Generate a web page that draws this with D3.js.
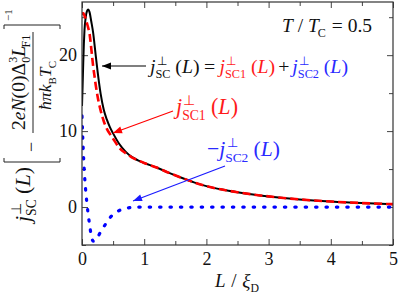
<!DOCTYPE html>
<html><head><meta charset="utf-8">
<script src="https://cdn.jsdelivr.net/npm/d3@7"></script>
<style>
body{margin:0;background:#fff}
</style>
</head><body>
<svg id="c" width="398" height="294"></svg>
<script>
// ---- data ----
const L        = [0, 0.01, 0.02, 0.03, 0.04, 0.06, 0.08, 0.1, 0.12, 0.15, 0.18, 0.2, 0.22, 0.25, 0.3, 0.35, 0.4, 0.45, 0.5, 0.6, 0.7, 0.8, 0.9, 1.0, 1.2, 1.4, 1.6, 1.8, 2.0, 2.25, 2.5, 2.75, 3.0, 3.5, 4.0, 4.5, 5.0];
const jSC      = [13.3, 16.0, 19.0, 21.5, 23.3, 25.0, 25.8, 26.0, 25.7, 24.4, 22.9, 21.5, 20.0, 17.9, 14.9, 12.8, 11.5, 10.5, 9.7, 8.3, 7.3, 6.6, 6.15, 5.8, 5.2, 4.5, 3.85, 3.25, 2.75, 2.3, 1.95, 1.65, 1.4, 1.0, 0.72, 0.52, 0.38];
const jSC1     = [25.3, 25.5, 25.5, 25.4, 25.2, 24.8, 24.2, 23.6, 22.9, 20.8, 18.5, 17.3, 16.1, 14.6, 12.7, 11.3, 10.3, 9.6, 9.0, 7.8, 7.1, 6.55, 6.15, 5.8, 5.2, 4.5, 3.85, 3.25, 2.75, 2.3, 1.95, 1.65, 1.4, 1.0, 0.72, 0.52, 0.38];
const minusJSC2= [12.0, 9.6, 7.5, 5.8, 4.3, 2.1, 0.4, -1.0, -2.2, -3.8, -4.5, -4.45, -4.3, -4.0, -3.25, -2.6, -2.0, -1.4, -1.0, -0.45, -0.18, -0.05, 0, 0, 0, 0, 0, 0, 0, 0, 0, 0, 0, 0, 0, 0, 0];
const xTicks = [0, 1, 2, 3, 4, 5];
const xMinor = [0.5, 1.5, 2.5, 3.5, 4.5];
const yTicks = [0, 10, 20];
const yMinor = [-5, 5, 15, 25];

const FONT = '"Liberation Serif", Tinos, "Times New Roman", Times, serif';
const svg = d3.select('#c');
const x = d3.scaleLinear().domain([0, 5]).range([82, 393]);
const y = d3.scaleLinear().domain([-5, 27]).range([245, 2]);

// ---- rich text helper ----
function rich(g, x0, y0, parts, size, opt) {
  opt = opt || {};
  const grp = g.append('g');
  let cx = 0;
  const mk = (t, xx, yy, s, it, col) => {
    const e = grp.append('text').attr('x', xx).attr('y', yy).attr('font-size', s)
      .attr('font-family', FONT).style('font-family', FONT)
      .attr('fill', col || opt.color || '#111').text(t);
    if (it) e.attr('font-style', 'italic');
    return e.node().getComputedTextLength();
  };
  parts.forEach(p => {
    if (p.gap !== undefined) { cx += p.gap * size; return; }
    if (p.sup !== undefined || p.sub !== undefined) {
      const s = size * 0.62; let w = 0;
      const ox = cx + (p.dx || 0) * size;
      if (p.sup) w = Math.max(w, mk(p.sup, ox, -size * 0.42, s, false, p.c));
      if (p.sub) w = Math.max(w, mk(p.sub, ox - (p.subShift || 0) * size, size * 0.26, s, false, p.c));
      cx = ox + w;
      return;
    }
    cx += mk(p.t, cx, p.dy ? p.dy * size : 0, p.s ? p.s * size : size, p.it, p.c);
  });
  let k = opt.width ? opt.width / cx : 1;
  let tx = x0;
  if (opt.anchor === 'middle') tx = x0 - cx * k / 2;
  grp.attr('transform', `translate(${tx},${y0}) scale(${k})`);
  return cx * k;
}

// ---- axes ----
const ax = svg.append('g').attr('class', 'axes');
const tickStyle = g => {
  g.attr('font-family', FONT);
  g.select('.domain').remove();
  g.selectAll('line').attr('stroke', '#444');
  g.selectAll('text').attr('font-size', 18).attr('fill', '#111').attr('font-family', FONT).style('font-family', FONT);
};
ax.append('g').attr('transform', 'translate(0,245)').call(d3.axisBottom(x).tickValues(xTicks).tickFormat(d3.format('d')).tickSizeInner(-6).tickPadding(7)).call(tickStyle);
ax.append('g').attr('transform', 'translate(0,245)').call(d3.axisBottom(x).tickValues(xMinor).tickFormat('').tickSizeInner(-4)).call(tickStyle);
ax.append('g').attr('transform', 'translate(0,2)').call(d3.axisTop(x).tickValues(xTicks).tickFormat('').tickSizeInner(-6)).call(tickStyle);
ax.append('g').attr('transform', 'translate(0,2)').call(d3.axisTop(x).tickValues(xMinor).tickFormat('').tickSizeInner(-4)).call(tickStyle);
ax.append('g').attr('transform', 'translate(82,0)').call(d3.axisLeft(y).tickValues(yTicks).tickFormat(d3.format('d')).tickSizeInner(-6).tickPadding(5)).call(tickStyle);
ax.append('g').attr('transform', 'translate(82,0)').call(d3.axisLeft(y).tickValues(yMinor).tickFormat('').tickSizeInner(-4)).call(tickStyle);
ax.append('g').attr('transform', 'translate(393,0)').call(d3.axisRight(y).tickValues(yTicks).tickFormat('').tickSizeInner(-6)).call(tickStyle);
ax.append('g').attr('transform', 'translate(393,0)').call(d3.axisRight(y).tickValues(yMinor).tickFormat('').tickSizeInner(-4)).call(tickStyle);

// ---- curves ----
const plot = svg.append('g');
plot.append('defs').append('clipPath').attr('id', 'clip').append('rect').attr('x', 82).attr('y', 2).attr('width', 311).attr('height', 243);
const lineOf = arr => d3.line().x((d, i) => x(L[i])).y(d => y(d)).curve(d3.curveMonotoneX)(arr);
const cg = plot.append('g').attr('clip-path', 'url(#clip)');
cg.append('path').attr('d', lineOf(jSC)).attr('fill', 'none').attr('stroke', '#000').attr('stroke-width', 2);
cg.append('path').attr('d', lineOf(jSC1)).attr('fill', 'none').attr('stroke', '#ff0000').attr('stroke-width', 2.6).attr('stroke-dasharray', '8,4');
cg.append('path').attr('d', lineOf(minusJSC2)).attr('fill', 'none').attr('stroke', '#0000ff').attr('stroke-width', 3.2).attr('stroke-linecap', 'round').attr('stroke-dasharray', '1.4,9');

// frame
svg.append('rect').attr('x', 82).attr('y', 2).attr('width', 311).attr('height', 243).attr('fill', 'none').attr('stroke', '#333').attr('stroke-width', 1.2);

// ---- arrows ----
function arrow(x1, y1, x2, y2, col) {
  svg.append('line').attr('x1', x1).attr('y1', y1).attr('x2', x2).attr('y2', y2).attr('stroke', col).attr('stroke-width', 1.2);
  const a = Math.atan2(y2 - y1, x2 - x1), hl = 9, hw = 3.5;
  const bx = x2 - hl * Math.cos(a), by = y2 - hl * Math.sin(a);
  const px = -Math.sin(a) * hw, py = Math.cos(a) * hw;
  svg.append('path').attr('d', `M${x2},${y2}L${bx + px},${by + py}L${bx - px},${by - py}Z`).attr('fill', col);
}
arrow(146, 66, 102, 66, '#000');
arrow(173, 111, 113, 133, '#ff0000');
arrow(225, 166, 133, 201, '#1a1aff');

// ---- annotations ----
const RED = '#ff1a1a', BLUE = '#2a2aff', BLK = '#111';
const jPart = (sub, c) => [{ t: 'j', it: 1, c }, { sup: '\u22A5', sub, dx: 0.06, subShift: 0.06, c }, { gap: 0.18 }, { t: '(', c }, { t: 'L', it: 1, c }, { t: ')', c }];
rich(svg, 150, 73, [...jPart('SC', BLK), { gap: 0.22 }, { t: '=', c: BLK }, { gap: 0.22 }, ...jPart('SC1', RED), { gap: 0.15 }, { t: '+', c: BLK }, { gap: 0.15 }, ...jPart('SC2', BLUE)], 18, { width: 198 });
rich(svg, 176, 114, jPart('SC1', RED), 18, { width: 62 });
rich(svg, 207, 156, [{ t: '\u2212', c: BLUE }, ...jPart('SC2', BLUE)], 18, { width: 73 });
rich(svg, 282, 32, [{ t: 'T', it: 1 }, { gap: 0.25 }, { t: '/' }, { gap: 0.25 }, { t: 'T', it: 1 }, { sub: 'C', subShift: 0.05 }, { gap: 0.25 }, { t: '=' }, { gap: 0.25 }, { t: '0.5' }], 18, { width: 90 });

// x title
rich(svg, 237, 287, [{ t: 'L', it: 1 }, { gap: 0.3 }, { t: '/' }, { gap: 0.3 }, { t: '\u03BE', it: 1 }, { sub: 'D' }], 19, { anchor: 'middle' });

// y title (rotated)
const gy = svg.append('g').attr('transform', 'rotate(-90)');
rich(gy, -222, 30, jPart('SC', BLK), 18, { width: 55 });
gy.append('path').attr('d', 'M-158,4H-162V60H-158').attr('fill', 'none').attr('stroke', '#222').attr('stroke-width', 1);
gy.append('path').attr('d', 'M-29,4H-25V60H-29').attr('fill', 'none').attr('stroke', '#222').attr('stroke-width', 1);
rich(gy, -152, 37, [{ t: '\u2212' }], 18, {});
gy.append('line').attr('x1', -133).attr('x2', -32).attr('y1', 33).attr('y2', 33).attr('stroke', '#222').attr('stroke-width', 1);
rich(gy, -130, 25, [{ t: '2' }, { t: 'e', it: 1 }, { t: 'N', it: 1 }, { t: '(' }, { t: '0' }, { t: ')' }, { t: '\u0394' }, { sup: '3', sub: '0' }, { t: 'L', it: 1 }, { sub: 'F1', subShift: 0.08 }], 18, { width: 97 });
rich(gy, -110, 51, [{ t: '\u0127', it: 1 }, { t: '\u03C0', it: 1 }, { t: 'k', it: 1 }, { sub: 'B' }, { t: 'T', it: 1 }, { sub: 'C', subShift: 0.05 }], 18, { width: 50 });
rich(gy, -21, 12, [{ t: '\u22121' }], 11, {});
</script>
</body></html>
